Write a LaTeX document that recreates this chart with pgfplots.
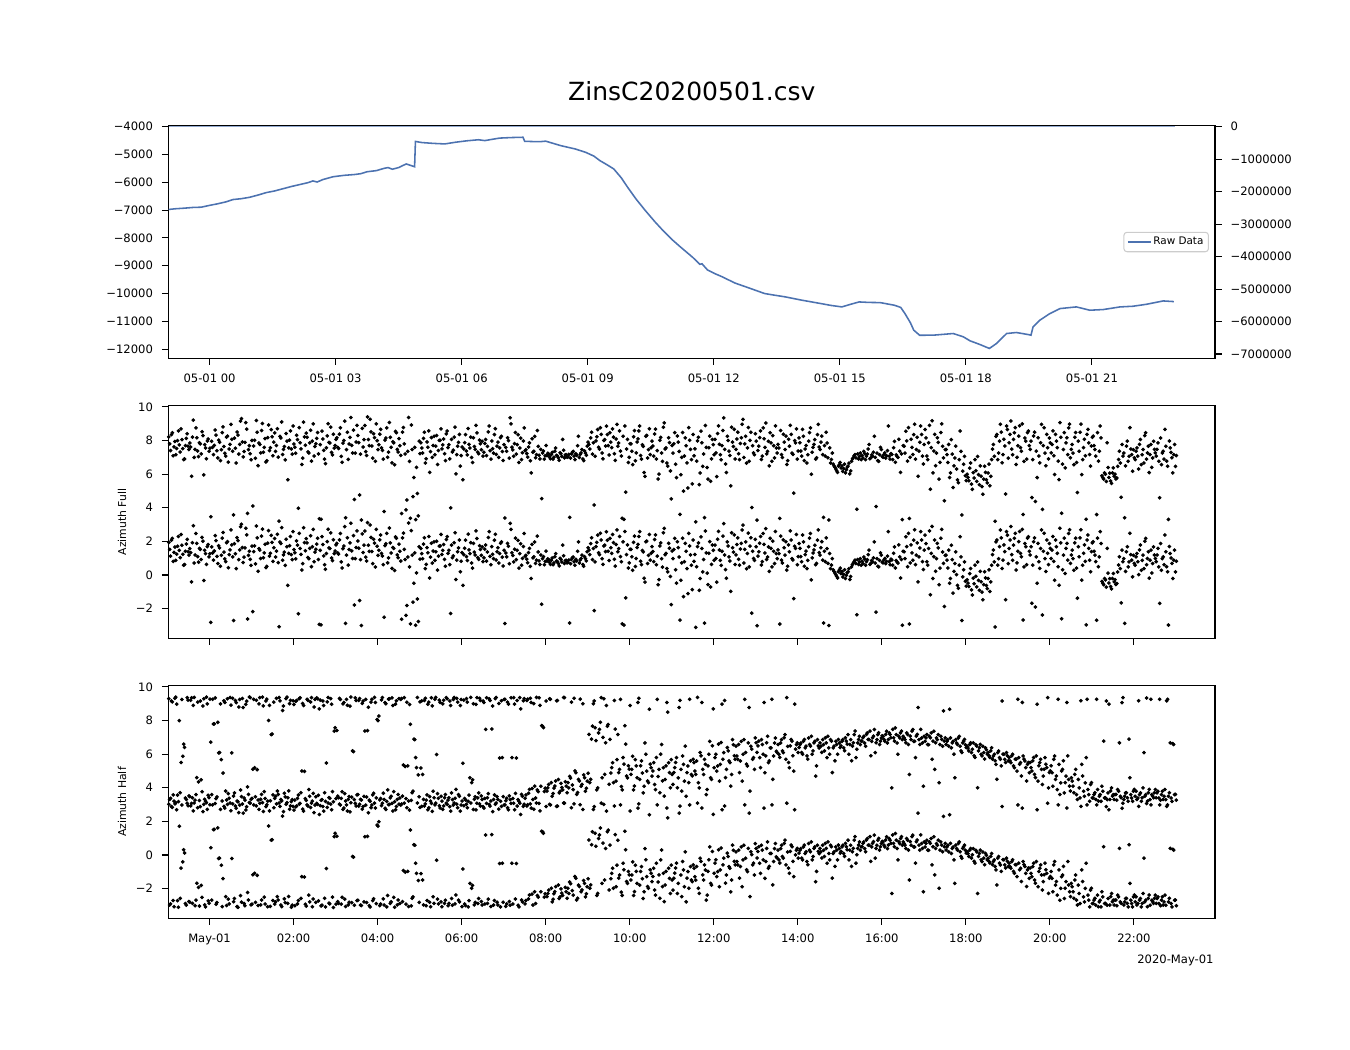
\documentclass[border=0pt]{standalone}
\usepackage{fontspec}
\setmainfont{DejaVu Sans}
\usepackage{pgfplots}
\usepackage{pgfplotstable}
\pgfplotsset{compat=1.18}
\definecolor{sb}{RGB}{76,114,176}
\newcommand{\tickfont}{\fontsize{5.55bp}{6.6bp}\selectfont}
\newcommand{\labfont}{\fontsize{5.2bp}{6.2bp}\selectfont}

% Azimuth Full, samples A
\pgfplotstableread[row sep=\\]{v\\
1.93\\1.12\\2.18\\1.34\\0.87\\1.71\\1.46\\2.41\\1.23\\0.62\\1.84\\1.38\\
1.57\\-0.41\\2.93\\1.19\\1.88\\0.76\\1.52\\2.24\\-0.33\\1.27\\1.69\\1.08\\
-2.82\\1.31\\1.43\\2.04\\0.68\\1.61\\1.17\\2.53\\0.96\\1.92\\0.43\\1.49\\
1.79\\-2.71\\1.26\\2.22\\0.91\\2.87\\1.63\\1.06\\2.78\\-2.62\\1.41\\0.57\\
-2.18\\1.73\\2.91\\0.22\\1.48\\2.31\\1.02\\1.83\\0.51\\2.64\\1.29\\1.94\\
1.62\\1.07\\2.42\\-3.08\\1.87\\0.88\\1.36\\2.13\\-0.62\\1.74\\1.21\\2.58\\
1.32\\2.03\\-2.31\\1.58\\0.29\\2.81\\1.44\\1.91\\0.97\\2.33\\1.68\\0.79\\
1.53\\2.19\\-2.94\\-2.97\\1.81\\0.61\\1.28\\2.72\\1.57\\1.01\\2.09\\1.42\\
1.88\\1.24\\2.47\\0.42\\1.72\\-2.88\\2.21\\1.51\\3.08\\0.98\\-1.79\\1.63\\
2.02\\-1.52\\-3.01\\1.33\\2.61\\0.83\\1.77\\2.98\\1.39\\2.12\\0.48\\1.71\\
1.47\\2.38\\1.13\\-2.51\\1.86\\0.72\\2.79\\1.31\\1.64\\0.27\\2.18\\1.03\\
1.41\\-2.63\\2.49\\0.92\\-1.82\\3.09\\-2.91\\1.18\\-0.49\\-2.99\\-1.43\\1.68\\
1.58\\0.97\\2.21\\0.63\\1.32\\-0.18\\1.89\\1.42\\0.87\\2.01\\1.12\\1.73\\
1.22\\1.81\\0.52\\2.28\\1.47\\-2.29\\1.03\\1.92\\-0.27\\1.38\\2.08\\0.82\\
-0.62\\1.59\\1.09\\2.43\\1.27\\0.71\\1.88\\1.19\\2.17\\0.93\\1.52\\1.67\\
1.02\\1.78\\1.37\\2.58\\0.61\\1.23\\2.07\\0.89\\1.62\\1.28\\1.97\\0.53\\
-2.89\\1.08\\1.71\\3.07\\1.32\\0.78\\2.19\\1.47\\0.41\\1.86\\0.99\\2.47\\
1.17\\0.73\\1.58\\-0.21\\1.02\\1.96\\0.88\\1.37\\0.62\\-1.74\\1.09\\0.81\\
0.82\\0.91\\0.63\\1.01\\0.72\\1.27\\0.79\\0.54\\0.93\\1.78\\0.68\\0.87\\
0.74\\-2.86\\0.92\\1.07\\0.58\\0.83\\1.97\\0.89\\1.18\\0.52\\0.97\\1.38\\
1.48\\1.87\\0.91\\-2.12\\1.69\\2.37\\1.21\\2.08\\0.63\\1.77\\2.57\\1.41\\
2.18\\1.29\\1.92\\0.53\\2.68\\1.57\\1.09\\-2.91\\-2.98\\-1.36\\1.79\\0.72\\
1.52\\0.28\\2.31\\0.98\\1.82\\2.58\\0.61\\1.37\\-0.42\\2.02\\1.17\\0.88\\
1.68\\0.79\\2.39\\1.12\\-0.28\\1.91\\0.47\\2.77\\1.28\\0.19\\1.59\\-1.76\\
0.97\\2.18\\-0.49\\1.62\\-2.68\\0.72\\-1.29\\1.88\\0.38\\2.48\\1.19\\-0.87\\
0.81\\-3.12\\1.69\\-0.91\\2.27\\0.18\\-2.87\\1.31\\-0.58\\1.98\\0.63\\1.47\\
1.78\\-0.43\\2.59\\0.87\\1.41\\3.06\\0.32\\1.97\\1.08\\-0.98\\1.62\\2.38\\
1.19\\2.21\\0.58\\1.88\\2.97\\1.52\\0.37\\2.49\\1.72\\-2.27\\0.98\\2.12\\
-3.02\\1.38\\2.29\\0.79\\1.82\\2.76\\1.07\\0.21\\1.58\\2.01\\0.68\\1.27\\
1.49\\-2.92\\0.88\\2.09\\1.18\\0.29\\1.79\\2.62\\0.97\\-1.41\\1.58\\0.61\\
1.87\\1.09\\2.38\\0.52\\1.42\\0.87\\2.19\\-0.29\\1.31\\1.77\\0.69\\2.68\\
1.18\\1.98\\-2.86\\0.79\\1.57\\-3.01\\0.38\\0.97\\0.21\\0.02\\-0.18\\0.29\\
0.08\\-0.12\\0.31\\-0.02\\0.19\\-0.27\\0.48\\0.71\\0.88\\-2.37\\0.62\\0.97\\
0.82\\1.07\\0.58\\0.91\\1.48\\0.69\\0.78\\1.97\\-2.21\\0.52\\0.87\\1.18\\
0.72\\0.98\\0.81\\2.58\\0.61\\0.89\\1.29\\0.42\\0.77\\1.79\\-0.18\\-2.99\\
1.38\\2.27\\0.49\\-2.92\\1.79\\0.88\\2.69\\1.18\\-0.41\\1.61\\2.08\\0.32\\
2.37\\0.79\\1.58\\-1.18\\2.89\\1.09\\0.22\\1.88\\-0.58\\2.19\\1.37\\-1.87\\
1.18\\0.41\\-0.49\\1.77\\-1.08\\0.68\\0.02\\-0.79\\2.28\\-2.71\\0.31\\-0.38\\
-0.29\\-0.68\\0.38\\-1.19\\-0.52\\-0.08\\0.77\\-0.91\\-0.41\\-1.48\\0.19\\-0.62\\
-0.21\\-0.98\\0.58\\1.48\\-3.09\\2.08\\0.97\\2.68\\0.39\\1.79\\-1.47\\2.37\\
1.58\\2.88\\0.87\\2.18\\0.29\\1.41\\2.59\\1.08\\-2.68\\1.87\\0.61\\2.28\\
1.19\\-1.68\\1.98\\-1.91\\-0.49\\0.79\\1.58\\-2.38\\2.48\\0.21\\1.29\\1.87\\
0.98\\2.29\\-0.31\\1.68\\0.49\\2.78\\-2.61\\1.18\\0.09\\1.88\\2.47\\0.69\\
1.48\\0.28\\2.19\\-1.38\\1.08\\2.69\\0.58\\1.79\\-2.97\\2.38\\0.88\\1.39\\
1.98\\1.18\\-2.69\\0.49\\2.58\\-0.38\\-0.58\\-0.29\\1.58\\-0.48\\-0.69\\-0.21\\
-0.41\\-0.57\\0.18\\1.08\\-1.66\\0.79\\-2.88\\1.38\\0.48\\2.48\\0.88\\1.17\\
0.58\\1.28\\0.02\\1.78\\0.87\\0.38\\2.18\\0.98\\-0.19\\1.48\\0.68\\1.19\\
0.79\\1.58\\-1.69\\0.28\\1.08\\2.38\\0.49\\-2.98\\1.28\\0.69\\0.88\\0.18\\
}\fulltab

% Azimuth Full, samples B (half a step later)
\pgfplotstableread[row sep=\\]{v\\
1.52\\2.07\\0.81\\1.66\\1.24\\2.29\\1.03\\1.77\\0.58\\1.41\\2.12\\1.18\\
1.33\\1.92\\0.71\\2.47\\1.09\\1.58\\0.92\\2.01\\1.47\\0.63\\1.81\\1.26\\
1.67\\0.88\\2.34\\1.11\\1.74\\0.52\\2.19\\1.36\\0.79\\1.98\\1.21\\2.68\\
1.08\\1.86\\0.38\\2.04\\1.49\\3.02\\0.74\\1.61\\2.39\\1.17\\0.93\\1.72\\
1.39\\0.66\\2.21\\1.57\\0.98\\2.73\\1.31\\0.44\\1.89\\1.12\\2.36\\0.81\\
2.17\\1.42\\0.73\\1.96\\2.82\\1.19\\0.57\\1.68\\1.28\\2.29\\0.91\\1.51\\
0.96\\1.77\\2.48\\1.22\\0.67\\1.93\\2.16\\1.04\\1.58\\0.49\\2.71\\1.36\\
1.84\\0.92\\1.47\\2.28\\1.13\\0.34\\1.99\\1.61\\2.51\\0.86\\1.27\\1.79\\
1.31\\2.09\\0.78\\1.56\\2.87\\1.18\\0.59\\1.91\\1.43\\2.34\\0.97\\2.62\\
1.59\\0.91\\2.44\\1.77\\1.06\\3.12\\1.41\\2.23\\0.67\\1.89\\2.71\\1.17\\
2.09\\1.28\\0.61\\1.74\\2.47\\1.02\\1.91\\0.39\\1.58\\2.26\\1.19\\1.83\\
0.83\\2.21\\1.52\\-2.41\\1.07\\0.48\\2.64\\-1.62\\1.31\\0.12\\-2.77\\0.94\\
1.27\\1.84\\0.38\\1.63\\2.29\\1.06\\0.71\\1.97\\1.38\\0.29\\1.72\\2.41\\
1.46\\0.93\\2.11\\1.29\\0.62\\1.78\\1.14\\2.51\\0.88\\1.61\\0.19\\1.33\\
1.21\\2.07\\0.86\\1.49\\1.92\\0.41\\1.36\\2.62\\1.03\\1.74\\1.17\\0.79\\
1.54\\0.82\\2.23\\1.11\\1.69\\0.97\\2.42\\1.38\\0.71\\1.89\\1.06\\1.47\\
1.31\\1.88\\0.67\\2.71\\1.16\\1.53\\0.91\\2.06\\1.27\\0.58\\1.69\\1.11\\
0.94\\1.33\\0.51\\1.82\\1.08\\0.69\\2.31\\0.84\\1.19\\0.97\\0.61\\1.42\\
0.96\\0.74\\0.88\\0.61\\1.08\\0.83\\0.69\\0.99\\0.77\\1.14\\0.86\\0.72\\
0.89\\0.67\\1.02\\0.79\\0.93\\1.41\\0.71\\0.98\\0.62\\1.09\\0.84\\1.62\\
1.21\\2.21\\1.58\\0.78\\1.94\\1.32\\2.48\\0.97\\1.72\\1.39\\2.07\\0.86\\
1.62\\2.41\\0.93\\1.81\\1.38\\2.29\\0.79\\1.97\\2.58\\1.21\\0.41\\1.53\\
1.08\\1.94\\0.51\\1.63\\2.29\\0.82\\1.46\\-0.19\\1.97\\0.68\\2.41\\1.29\\
1.39\\2.11\\0.61\\-0.58\\1.73\\0.97\\2.51\\1.21\\0.38\\1.88\\-0.09\\1.42\\
1.52\\0.31\\1.98\\1.07\\-0.32\\2.19\\0.79\\1.41\\-1.11\\1.73\\0.58\\2.08\\
1.22\\0.49\\1.91\\-0.21\\1.58\\0.92\\2.61\\0.11\\1.29\\-0.71\\1.78\\0.87\\
0.98\\2.13\\1.49\\0.57\\2.31\\1.19\\-0.19\\1.72\\0.83\\2.51\\1.36\\0.62\\
1.81\\0.93\\1.54\\2.68\\0.71\\1.97\\1.28\\0.48\\2.21\\1.41\\0.87\\1.68\\
1.12\\1.89\\0.59\\2.47\\1.31\\0.92\\1.67\\2.18\\0.48\\1.41\\2.59\\0.97\\
1.27\\2.31\\0.71\\1.62\\1.98\\0.52\\1.38\\2.08\\0.89\\1.71\\2.41\\1.09\\
1.58\\0.79\\1.97\\1.21\\0.38\\1.68\\2.47\\1.02\\1.49\\0.61\\2.07\\1.33\\
1.62\\0.88\\1.41\\2.21\\0.69\\1.28\\0.59\\0.31\\0.12\\-0.08\\0.19\\0.41\\
0.21\\0.04\\-0.21\\0.13\\0.37\\-0.09\\0.62\\0.81\\0.68\\0.92\\0.77\\0.58\\
0.67\\0.94\\0.79\\1.21\\0.63\\0.86\\1.02\\0.71\\0.97\\0.48\\1.31\\0.76\\
0.89\\0.67\\1.12\\0.79\\0.94\\0.58\\1.67\\0.86\\0.71\\1.08\\0.92\\1.41\\
0.97\\1.69\\2.48\\0.72\\1.31\\2.07\\0.61\\1.91\\1.08\\2.58\\0.79\\1.48\\
1.87\\0.58\\2.62\\1.29\\-0.21\\2.08\\0.97\\1.61\\0.41\\2.71\\0.69\\1.17\\
0.88\\1.48\\-0.21\\0.91\\0.21\\1.38\\-0.62\\0.58\\1.07\\-0.11\\0.78\\-0.67\\
-0.48\\0.08\\-0.88\\-0.19\\0.58\\-0.71\\-0.32\\0.21\\-1.02\\-0.58\\-0.18\\-0.81\\
0.31\\-0.41\\1.21\\0.78\\1.97\\0.58\\1.68\\2.21\\0.88\\1.39\\2.58\\0.67\\
2.08\\1.21\\1.78\\2.48\\0.72\\1.98\\1.29\\2.71\\0.48\\1.68\\2.19\\1.41\\
1.68\\0.58\\2.21\\1.08\\1.88\\0.39\\2.68\\1.41\\0.97\\2.08\\0.62\\1.58\\
1.48\\0.81\\2.08\\1.29\\-0.61\\1.91\\0.31\\2.19\\1.58\\0.88\\2.69\\1.19\\
0.97\\1.91\\0.41\\1.68\\2.21\\-0.31\\1.29\\0.81\\2.08\\1.58\\0.19\\1.91\\
1.41\\0.79\\2.19\\1.08\\1.87\\-0.49\\-0.21\\-0.72\\0.11\\-0.22\\-0.83\\0.09\\
-0.28\\-0.51\\0.59\\0.38\\1.48\\0.97\\0.21\\1.68\\0.78\\1.21\\-0.11\\0.69\\
1.08\\0.79\\1.49\\0.28\\1.18\\2.01\\0.61\\1.38\\0.88\\0.12\\1.67\\0.98\\
1.19\\0.48\\1.87\\0.97\\0.61\\1.38\\0.19\\1.69\\1.01\\-0.21\\1.48\\0.82\\
}\fulltabB

% Azimuth Half, samples A
\pgfplotstableread[row sep=\\]{v\\
3.02\\-2.91\\2.83\\-3.08\\3.11\\-2.72\\1.71\\-0.78\\-0.41\\0.12\\-2.98\\2.93\\
-2.81\\3.07\\2.62\\-3.02\\-1.68\\-1.93\\2.88\\-2.52\\3.01\\-3.09\\2.71\\-2.87\\
0.43\\2.98\\1.52\\-2.93\\1.61\\-0.19\\-0.61\\-1.41\\2.79\\-3.01\\-2.63\\3.09\\
-0.21\\-2.78\\2.91\\-3.07\\2.52\\-2.42\\3.03\\-2.89\\2.68\\-2.23\\3.12\\-2.97\\
-1.18\\-1.09\\2.92\\-3.01\\3.08\\-2.68\\2.59\\-2.92\\2.99\\1.72\\-3.06\\0.91\\
2.81\\-2.79\\-2.48\\3.09\\-2.98\\2.31\\-2.61\\3.02\\-2.88\\2.72\\-3.11\\2.89\\
-3.02\\2.91\\-2.71\\3.07\\-1.29\\2.61\\-2.93\\2.98\\-2.39\\2.82\\-3.08\\2.52\\
-2.82\\3.01\\2.41\\-3.03\\2.88\\-2.58\\-0.81\\3.09\\-2.91\\2.69\\-3.12\\1.29\\
1.12\\-2.88\\2.97\\-2.52\\2.79\\-3.07\\2.62\\-2.81\\3.11\\-0.09\\-2.99\\2.91\\
-2.69\\3.02\\-3.01\\2.88\\1.09\\-2.83\\2.51\\-3.09\\2.98\\-2.61\\2.79\\1.78\\
1.98\\-2.92\\3.08\\-2.98\\2.71\\-2.41\\3.01\\-2.79\\2.61\\-3.11\\2.89\\-2.68\\
-2.89\\3.03\\-0.93\\-1.02\\2.81\\-3.07\\1.49\\-2.58\\0.61\\-0.49\\3.09\\-2.82\\
-1.11\\-1.49\\2.91\\-3.02\\2.69\\-2.81\\3.07\\-2.49\\2.98\\-0.31\\-2.91\\2.79\\
-3.08\\2.92\\-2.69\\3.01\\-2.88\\2.61\\-2.99\\3.09\\-2.38\\2.81\\-2.79\\2.97\\
-0.83\\-2.92\\3.02\\-3.09\\-1.69\\-1.98\\2.71\\-2.82\\3.08\\-2.59\\2.91\\-2.98\\
2.79\\1.19\\-2.88\\3.01\\-3.07\\2.58\\-2.71\\3.09\\-2.98\\-0.51\\2.89\\-2.81\\
2.98\\-2.91\\2.69\\-2.99\\-0.49\\3.08\\-2.62\\2.91\\-3.09\\2.41\\-2.79\\3.02\\
-2.71\\2.99\\-2.38\\2.79\\-2.98\\-2.19\\3.09\\-2.51\\2.62\\1.41\\1.29\\-2.31\\
-2.48\\-2.09\\2.98\\-2.79\\-2.31\\-1.88\\2.91\\-2.59\\-2.02\\-2.41\\3.08\\-2.19\\
-1.98\\-1.61\\2.81\\-2.39\\-1.28\\-2.68\\-1.79\\2.99\\-2.08\\-1.52\\-2.49\\-1.89\\
0.89\\-1.78\\1.38\\2.88\\0.52\\-2.29\\1.19\\3.08\\0.71\\-1.49\\2.61\\1.48\\
0.59\\-1.09\\-1.98\\1.21\\-0.61\\-1.38\\2.98\\-2.41\\-0.88\\0.31\\-1.69\\-1.18\\
-1.49\\-0.41\\-2.18\\-0.98\\2.79\\-1.79\\-0.69\\-2.59\\0.38\\-1.29\\-1.98\\-0.88\\
-1.59\\-0.79\\-2.39\\2.98\\-1.19\\-0.29\\-1.88\\-2.78\\-0.98\\2.21\\-1.39\\-0.61\\
-2.09\\-1.08\\-0.49\\-1.69\\2.91\\-2.48\\-0.89\\0.19\\-1.38\\-1.98\\-0.69\\-1.58\\
-0.79\\-1.49\\3.09\\-2.29\\-0.38\\-1.19\\-0.59\\-2.69\\-0.98\\0.48\\-1.79\\2.41\\
-0.49\\-1.29\\0.31\\-0.89\\2.69\\-0.19\\-1.68\\0.11\\-0.69\\-2.19\\0.58\\-0.38\\
0.19\\-0.59\\-1.38\\0.48\\-0.29\\2.98\\-0.88\\0.39\\-2.48\\0.02\\-0.49\\0.68\\
-0.18\\0.49\\-1.09\\0.29\\2.79\\-0.39\\0.78\\-0.68\\0.09\\-1.78\\0.38\\-0.11\\
0.29\\-0.48\\0.58\\-0.19\\0.88\\3.08\\-0.78\\0.21\\0.49\\-1.29\\0.01\\0.39\\
0.11\\0.38\\-0.29\\0.59\\0.19\\-0.58\\0.29\\0.78\\-0.09\\0.48\\-0.98\\0.21\\
0.39\\-0.18\\0.28\\0.69\\-0.49\\0.09\\0.58\\-1.38\\0.19\\0.48\\-0.29\\0.38\\
0.21\\0.58\\-0.08\\0.49\\0.88\\0.29\\-0.68\\0.39\\1.09\\0.01\\0.59\\0.28\\
0.49\\0.78\\0.19\\0.98\\0.58\\-0.38\\0.69\\1.18\\0.39\\0.88\\0.29\\0.68\\
0.78\\0.48\\1.08\\0.59\\0.88\\-2.29\\0.69\\1.28\\0.38\\0.79\\0.98\\0.58\\
0.69\\0.39\\0.88\\-1.49\\0.58\\1.18\\0.48\\0.79\\2.49\\0.29\\0.68\\-2.19\\
0.48\\0.88\\0.28\\0.69\\-0.59\\1.08\\0.39\\0.58\\-1.98\\0.78\\0.19\\0.49\\
0.29\\0.58\\2.39\\0.09\\0.48\\-1.69\\0.38\\0.68\\0.19\\-0.19\\0.49\\0.28\\
0.19\\-0.09\\0.39\\0.01\\-0.38\\0.28\\-2.29\\0.09\\-0.29\\0.18\\-0.58\\-0.02\\
-0.19\\-0.48\\0.09\\-0.39\\-0.68\\-1.78\\-0.09\\-0.59\\2.88\\-0.29\\-0.78\\-0.38\\
-0.49\\-0.79\\-0.29\\-1.09\\-0.58\\2.98\\-0.88\\-1.58\\-0.39\\-0.69\\-1.88\\-0.78\\
-0.78\\-1.29\\-0.49\\-1.68\\2.69\\-0.98\\-0.59\\-2.09\\-1.18\\-0.88\\3.08\\-1.38\\
-0.98\\-2.19\\-0.39\\-1.58\\2.98\\-2.69\\-1.29\\-0.68\\-1.98\\2.79\\-1.79\\-2.48\\
-1.89\\-2.58\\-1.19\\-2.98\\-2.29\\2.89\\-1.58\\-2.79\\-0.49\\-2.39\\-3.09\\-1.98\\
-2.89\\-2.58\\2.98\\-3.08\\-2.69\\-2.19\\0.49\\-2.88\\-2.99\\2.69\\-2.48\\-2.78\\
-2.98\\-2.68\\-2.39\\0.39\\-2.88\\3.08\\-2.79\\-2.58\\-3.09\\-1.69\\-2.89\\-2.49\\
-2.79\\-2.98\\2.89\\-2.59\\-2.88\\-0.19\\-2.69\\-3.08\\-2.38\\2.98\\-2.78\\-2.58\\
-2.88\\-2.49\\2.98\\-2.69\\-2.98\\-2.39\\2.89\\-2.79\\0.39\\-3.09\\0.29\\-2.68\\
}\halftab

% Azimuth Half, samples B (half a step later)
\pgfplotstableread[row sep=\\]{v\\
-2.98\\2.88\\-2.71\\3.04\\2.69\\-3.11\\-2.58\\2.97\\0.31\\-2.89\\3.08\\-2.77\\
2.92\\-2.88\\3.09\\-2.69\\2.81\\-3.04\\-1.81\\2.58\\-2.97\\3.11\\-2.73\\2.99\\
-2.69\\1.51\\3.06\\-2.83\\-0.21\\2.71\\-3.07\\2.89\\-2.48\\3.01\\-2.91\\2.63\\
3.04\\-2.59\\2.78\\-3.12\\2.97\\-2.81\\2.49\\-3.02\\2.87\\-2.68\\3.08\\-2.92\\
2.98\\-2.82\\-1.21\\2.71\\-2.97\\3.11\\-2.51\\2.88\\-3.08\\2.62\\0.88\\-2.71\\
-2.92\\3.04\\-2.68\\2.89\\-3.07\\2.58\\-2.83\\3.11\\-2.47\\2.92\\-2.99\\2.67\\
2.86\\-2.91\\3.02\\-2.58\\2.73\\-1.31\\-3.04\\2.91\\-2.79\\3.08\\-2.62\\2.97\\
3.07\\-2.73\\2.93\\-2.99\\2.61\\-3.09\\2.83\\-2.87\\3.02\\-2.51\\1.09\\-2.93\\
-2.78\\3.03\\-2.92\\2.71\\-2.63\\2.98\\-2.97\\2.57\\-2.84\\-0.13\\3.07\\-2.71\\
2.91\\-2.98\\2.73\\-2.79\\2.97\\1.11\\-3.02\\2.81\\-2.71\\3.09\\-2.89\\1.71\\
-3.01\\2.94\\-2.61\\2.78\\-3.09\\2.99\\-2.88\\3.07\\-2.52\\2.69\\-2.97\\3.02\\
2.97\\-2.78\\3.08\\-2.93\\-0.98\\2.67\\-3.03\\-2.49\\0.58\\-1.09\\-1.52\\2.83\\
2.89\\-2.97\\3.04\\-2.71\\2.81\\-3.08\\2.59\\-2.88\\3.09\\-2.63\\2.93\\-2.79\\
2.71\\-2.88\\3.08\\-3.02\\2.88\\-2.59\\2.97\\-2.91\\3.03\\-2.69\\2.61\\-3.07\\
2.93\\-3.01\\2.81\\-2.72\\3.09\\-1.81\\-2.97\\2.68\\-2.89\\3.04\\-2.77\\2.88\\
-2.92\\3.07\\-2.63\\2.91\\1.21\\-2.98\\3.02\\-2.81\\2.73\\-3.09\\-0.49\\2.97\\
-3.06\\2.81\\-2.77\\3.07\\-2.92\\2.69\\-0.51\\-2.99\\3.08\\-2.68\\2.89\\-2.91\\
2.91\\-2.61\\3.04\\-2.33\\2.72\\-2.89\\-2.41\\3.07\\-2.19\\1.38\\-2.51\\2.88\\
-2.29\\3.01\\-1.98\\-2.63\\-2.18\\2.89\\-1.79\\-2.49\\-2.27\\3.09\\-1.93\\-2.58\\
-2.29\\-1.71\\-2.12\\3.04\\-1.39\\-2.57\\-1.88\\-2.19\\2.71\\-1.69\\-2.31\\-1.42\\
-1.98\\0.61\\2.71\\1.29\\-2.41\\0.98\\1.61\\-1.69\\3.01\\0.39\\1.38\\-2.08\\
-1.41\\-0.79\\2.91\\-1.89\\0.88\\-1.19\\-2.21\\-0.49\\1.41\\-1.58\\-0.98\\2.61\\
-1.19\\-2.41\\-0.61\\-1.69\\3.04\\-0.98\\-1.41\\-2.19\\-0.29\\-1.88\\2.39\\-1.09\\
-1.28\\-2.09\\-0.49\\-1.61\\-2.58\\0.29\\-1.09\\-1.79\\2.79\\-0.79\\-2.29\\-1.49\\
-1.38\\-0.78\\-2.29\\2.49\\-1.19\\-0.39\\-1.89\\-2.79\\-0.99\\2.98\\-1.49\\-0.59\\
-1.29\\-0.69\\-1.98\\-0.19\\2.79\\-1.49\\-0.89\\-2.39\\-0.29\\-1.69\\0.21\\-1.09\\
-0.29\\-0.99\\-1.89\\0.41\\-0.59\\2.91\\-1.19\\-0.09\\-0.79\\-1.49\\0.28\\-0.59\\
-0.39\\0.29\\-0.69\\-1.89\\0.58\\-0.19\\-0.99\\2.49\\0.19\\-0.59\\-1.19\\0.39\\
0.21\\-0.49\\0.58\\-0.29\\-1.39\\0.39\\-0.79\\0.09\\2.98\\-0.39\\0.68\\-0.19\\
-0.29\\0.38\\-0.09\\0.69\\-0.59\\0.18\\-1.09\\0.59\\-0.38\\2.69\\0.28\\-0.19\\
0.28\\-0.19\\0.48\\0.09\\-0.39\\0.68\\0.19\\-0.29\\0.39\\-1.59\\0.58\\0.08\\
0.19\\0.58\\-0.09\\0.39\\0.78\\-0.29\\0.49\\0.09\\-0.68\\0.29\\0.59\\0.11\\
0.48\\0.09\\0.69\\0.31\\-0.29\\0.58\\0.19\\0.88\\-0.49\\0.39\\0.78\\0.49\\
0.69\\0.38\\0.89\\0.59\\1.09\\0.48\\0.79\\-0.19\\0.58\\0.99\\0.49\\0.81\\
0.59\\0.89\\0.38\\0.98\\0.69\\1.19\\0.49\\0.88\\-0.29\\0.68\\1.09\\0.78\\
0.58\\0.98\\0.29\\0.79\\1.09\\0.48\\-0.49\\0.89\\0.58\\1.19\\0.39\\0.78\\
0.69\\0.29\\0.78\\0.98\\0.49\\-1.19\\0.68\\0.88\\0.29\\0.59\\2.29\\0.69\\
0.48\\0.19\\0.69\\0.39\\-0.29\\0.58\\0.29\\0.78\\-0.09\\0.39\\0.59\\0.11\\
0.08\\0.29\\-0.19\\0.38\\-0.48\\0.19\\-0.09\\0.29\\-0.39\\-0.19\\0.09\\-0.29\\
-0.38\\-0.09\\-0.58\\-0.29\\-0.89\\-0.19\\-0.49\\-0.98\\-0.28\\-0.59\\-0.19\\-0.69\\
-0.69\\-0.39\\-0.98\\-0.58\\-1.29\\-0.49\\-0.79\\2.79\\-0.58\\-1.09\\-0.89\\-1.39\\
-1.09\\-0.69\\-1.49\\-0.39\\-1.89\\-0.79\\-1.19\\-1.59\\-0.49\\-1.09\\-2.29\\-1.28\\
-1.39\\-0.59\\-1.79\\-2.39\\-0.89\\-1.99\\-1.19\\-2.59\\-1.59\\-0.39\\-2.19\\-1.69\\
-2.19\\-1.49\\-2.69\\-1.79\\-2.89\\-0.89\\-2.49\\-1.99\\2.98\\-2.69\\-2.09\\-2.89\\
-2.69\\-2.98\\-2.39\\-2.79\\-3.09\\-2.49\\-2.89\\2.88\\-2.59\\-2.98\\-2.29\\-2.69\\
-2.69\\-3.02\\-2.49\\-2.79\\2.78\\-2.98\\-2.59\\-2.88\\0.61\\-2.69\\-3.09\\-2.38\\
-2.49\\-2.89\\-2.69\\-3.09\\-2.29\\-2.79\\3.06\\-2.58\\-2.99\\-2.69\\-2.88\\-2.39\\
-2.59\\-2.89\\-3.02\\-2.49\\-2.79\\-2.99\\2.98\\-2.58\\-2.89\\0.34\\-2.69\\-3.02\\
}\halftabB

\pgfplotsset{
  base/.style={
    scale only axis, width=502.3bp, height=111.65bp,
    xmin=-0.976, xmax=23.93,
    tick align=outside,
    major tick length=3.2bp,
    tick style={black, line width=0.55bp},
    axis line style={line width=0.6bp},
    tick label style={font=\tickfont},
    scaled ticks=false,
    xticklabel style={anchor=base, inner sep=0pt, yshift=-8.4bp},
  },
  lefty/.style={
    yticklabel style={anchor=east, inner sep=0pt, xshift=-4.1bp},
  },
  dots/.style={only marks, mark=*, mark size=0.68bp, mark options={draw=none, fill=black}},
}

\begin{document}
\begin{tikzpicture}
\path[use as bounding box] (0,0) rectangle (648bp,504bp);

% ---- top panel, left axis
\begin{axis}[base, lefty, at={(80.9bp,332.0bp)}, anchor=south west, tick pos=left,
  ymin=-12330, ymax=-3965,
  ytick={-12000,-11000,-10000,-9000,-8000,-7000,-6000,-5000,-4000},
  yticklabels={−12000,−11000,−10000,−9000,−8000,−7000,−6000,−5000,−4000},
  xtick={0,3,6,9,12,15,18,21},
  xticklabels={05-01 00,05-01 03,05-01 06,05-01 09,05-01 12,05-01 15,05-01 18,05-01 21},
  title={ZinsC20200501.csv},
  title style={at={(0.5,1)}, anchor=base, yshift=5.9bp, inner sep=0pt, font=\fontsize{12bp}{14bp}\selectfont},
  legend style={at={(1,0.5)}, anchor=east, xshift=-2.9bp, font=\fontsize{5bp}{6bp}\selectfont,
    draw=black!20, line width=0.5bp, rounded corners=1.5bp, fill=white,
    inner xsep=1.5bp, inner ysep=1.2bp, nodes={inner sep=0.9bp}},
  legend image code/.code={\draw[#1] (0bp,0bp) -- (11bp,0bp);},
]
\addplot[sb, line width=0.75bp] coordinates {
(-0.98,-6977) (-0.80,-6950) (-0.60,-6930) (-0.40,-6905) (-0.20,-6895) (0.00,-6830)
(0.20,-6770) (0.40,-6700) (0.56,-6620) (0.75,-6590) (0.95,-6540) (1.15,-6460)
(1.35,-6370) (1.55,-6310) (1.75,-6230) (1.95,-6150) (2.15,-6080) (2.35,-6010)
(2.46,-5950) (2.56,-5990) (2.70,-5900) (2.94,-5800) (3.20,-5750) (3.45,-5720)
(3.60,-5690) (3.75,-5620) (3.97,-5580) (4.15,-5500) (4.25,-5470) (4.35,-5530)
(4.50,-5470) (4.68,-5340) (4.78,-5390) (4.88,-5440) (4.90,-4530) (5.05,-4570)
(5.32,-4600) (5.60,-4620) (5.85,-4560) (6.11,-4510) (6.40,-4470) (6.55,-4500)
(6.90,-4410) (7.20,-4390) (7.46,-4380) (7.50,-4527) (7.86,-4540) (8.00,-4520)
(8.36,-4682) (8.70,-4800) (8.95,-4921) (9.15,-5060) (9.29,-5220) (9.45,-5360)
(9.62,-5519) (9.80,-5840) (9.95,-6178) (10.15,-6600) (10.37,-7013) (10.60,-7420)
(10.79,-7731) (11.00,-8050) (11.21,-8329) (11.50,-8700) (11.67,-8950) (11.72,-8930)
(11.85,-9150) (12.05,-9300) (12.21,-9404) (12.50,-9620) (12.88,-9822) (13.21,-10000)
(13.45,-10060) (13.71,-10122) (14.10,-10240) (14.55,-10361) (14.80,-10430) (15.05,-10481)
(15.25,-10390) (15.46,-10302) (15.70,-10320) (15.96,-10326) (16.30,-10421) (16.45,-10500)
(16.55,-10720) (16.68,-11050) (16.76,-11318) (16.90,-11500) (17.22,-11498) (17.70,-11438)
(17.94,-11557) (18.10,-11701) (18.33,-11830) (18.56,-11975) (18.73,-11796) (18.97,-11438)
(19.20,-11402) (19.48,-11474) (19.55,-11498) (19.60,-11199) (19.76,-10960) (20.00,-10720)
(20.24,-10541) (20.63,-10481) (20.95,-10600) (21.27,-10576) (21.67,-10481) (21.98,-10457)
(22.30,-10386) (22.70,-10266) (22.95,-10290)
};
\addlegendentry{Raw Data}
\end{axis}

% ---- top panel, right axis
\begin{axis}[base, at={(80.9bp,332.0bp)}, anchor=south west,
  hide x axis, axis y line*=right, ytick pos=right,
  ymin=-7132000, ymax=30000,
  ytick={-7000000,-6000000,-5000000,-4000000,-3000000,-2000000,-1000000,0},
  yticklabels={−7000000,−6000000,−5000000,−4000000,−3000000,−2000000,−1000000,0},
  yticklabel style={anchor=west, inner sep=0pt, xshift=4.1bp},
]
\addplot[sb!60, line width=0.75bp] coordinates {(-0.97,0) (22.98,0)};
\end{axis}

% ---- middle panel
\begin{axis}[base, lefty, at={(80.9bp,197.6bp)}, anchor=south west, tick pos=left,
  ymin=-3.77, ymax=10.07,
  ytick={-2,0,2,4,6,8,10}, yticklabels={−2,0,2,4,6,8,10},
  xtick={0,2,4,6,8,10,12,14,16,18,20,22}, xticklabels={},
  ylabel={Azimuth Full},
  ylabel style={at={(axis description cs:-0.0443,0.5)}, anchor=center, inner sep=0pt, font=\labfont},
]
\addplot[dots] table[x expr={-0.97+\coordindex*0.0416667}, y index=0]{\fulltab};
\addplot[dots] table[x expr={-0.97+\coordindex*0.0416667}, y index=0, y expr={\thisrow{v}+6.2832}]{\fulltab};
\addplot[dots] table[x expr={-0.949+\coordindex*0.0416667}, y index=0]{\fulltabB};
\addplot[dots] table[x expr={-0.949+\coordindex*0.0416667}, y index=0, y expr={\thisrow{v}+6.2832}]{\fulltabB};
\end{axis}

% ---- bottom panel
\begin{axis}[base, lefty, name=bot, at={(80.9bp,63.2bp)}, anchor=south west, tick pos=left,
  ymin=-3.77, ymax=10.07,
  ytick={-2,0,2,4,6,8,10}, yticklabels={−2,0,2,4,6,8,10},
  xtick={0,2,4,6,8,10,12,14,16,18,20,22},
  xticklabels={May-01,02:00,04:00,06:00,08:00,10:00,12:00,14:00,16:00,18:00,20:00,22:00},
  ylabel={Azimuth Half},
  ylabel style={at={(axis description cs:-0.0443,0.5)}, anchor=center, inner sep=0pt, font=\labfont},
]
\addplot[dots] table[x expr={-0.97+\coordindex*0.0416667}, y index=0]{\halftab};
\addplot[dots] table[x expr={-0.97+\coordindex*0.0416667}, y index=0, y expr={\thisrow{v}+6.2832}]{\halftab};
\addplot[dots] table[x expr={-0.949+\coordindex*0.0416667}, y index=0]{\halftabB};
\addplot[dots] table[x expr={-0.949+\coordindex*0.0416667}, y index=0, y expr={\thisrow{v}+6.2832}]{\halftabB};
\end{axis}
\node[anchor=base east, inner sep=0pt, font=\tickfont] at ([xshift=-0.5bp, yshift=-21.5bp]bot.south east) {2020-May-01};
\end{tikzpicture}
\end{document}
